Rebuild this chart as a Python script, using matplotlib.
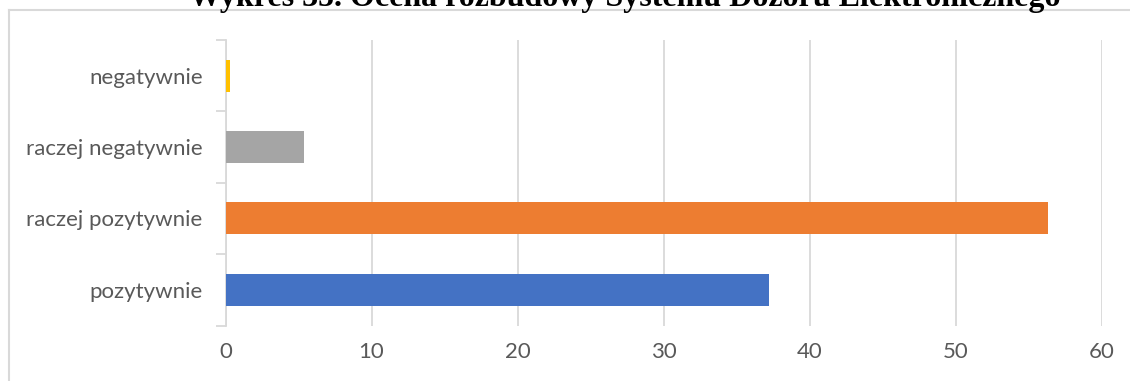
import numpy as np
import matplotlib.pyplot as plt
from matplotlib.lines import Line2D

# dane
kategorie = ['pozytywnie', 'raczej pozytywnie', 'raczej negatywnie', 'negatywnie']
wartosci = [37.2, 56.3, 5.4, 0.3]
kolory = ['#4472C4', '#ED7D31', '#A5A5A5', '#FFC000']
x_ticks = [0, 10, 20, 30, 40, 50, 60]
tytul = 'Wykres 35. Ocena rozbudowy Systemu Dozoru Elektronicznego'

W, H = 1130, 381
fig = plt.figure(figsize=(W / 100, H / 100), dpi=100)
ax = fig.add_axes([225.5 / W, 1 - 325.5 / H, (1101.7 - 225.5) / W, (325.5 - 40) / H])

y = np.arange(len(kategorie))
ax.barh(y, wartosci, height=0.45, color=kolory, zorder=3)

ax.set_xlim(0, 60)
ax.set_ylim(-0.5, len(kategorie) - 0.5)
ax.set_xticks(x_ticks)
ax.xaxis.grid(True, color='#D9D9D9', linewidth=1.3, zorder=0)
ax.tick_params(axis='x', length=0, pad=12, labelsize=16, labelcolor='#595959')

# granice kategorii jako główne znaczniki, etykiety na środku
ax.set_yticks(np.arange(-0.5, len(kategorie), 1))
ax.set_yticklabels([])
ax.set_yticks(y, minor=True)
ax.set_yticklabels(kategorie, minor=True)
ax.tick_params(axis='y', which='major', length=7, width=1.3, color='#D9D9D9')
ax.tick_params(axis='y', which='minor', length=0, pad=16.5, labelsize=16, labelcolor='#595959')

for s in ['top', 'right', 'bottom']:
    ax.spines[s].set_visible(False)
ax.spines['left'].set_color('#D9D9D9')
ax.spines['left'].set_linewidth(1.3)

for t in ax.get_xticklabels() + ax.get_yticklabels(minor=True):
    t.set_fontfamily('Lato')

# ramka obszaru wykresu (ucięta)
fig.add_artist(Line2D([9 / W, 9 / W], [0, 1 - 10 / H], transform=fig.transFigure,
                      color='#D9D9D9', linewidth=1.5))
fig.add_artist(Line2D([9 / W, 1], [1 - 10 / H, 1 - 10 / H], transform=fig.transFigure,
                      color='#D9D9D9', linewidth=1.5))

fig.text(625 / W, 1 - 6 / H, tytul, ha='center', va='baseline',
         fontfamily='Liberation Serif', fontweight='bold', fontsize=23)

fig.savefig('out.png', dpi=100)
